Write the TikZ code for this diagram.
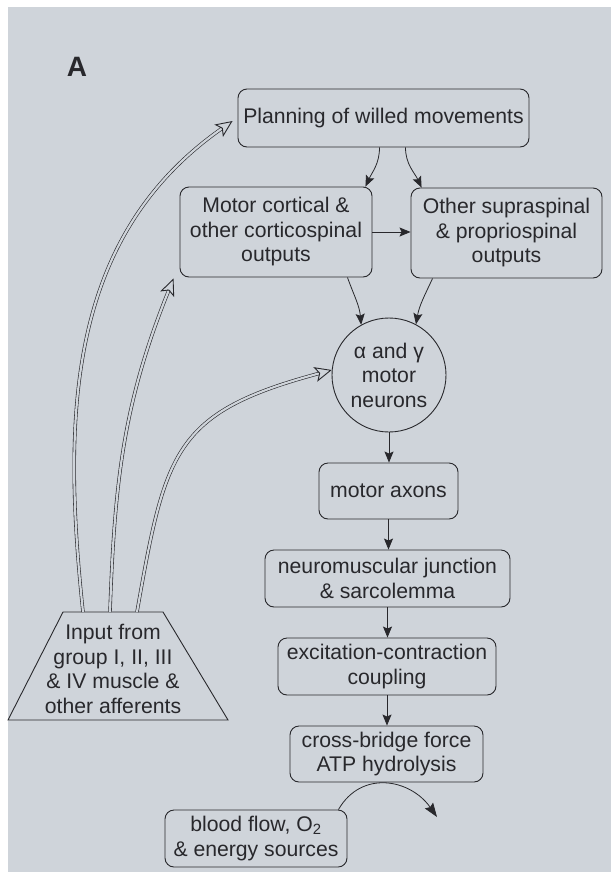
\documentclass[tikz,border=0pt]{standalone}
\usepackage{fontspec}
\setmainfont{Liberation Sans}
\usepackage{tikz}
\usetikzlibrary{shapes.geometric}
\usetikzlibrary{calc}
\usetikzlibrary{arrows.meta}
\definecolor{scan}{RGB}{207,212,218}
\definecolor{ink}{RGB}{40,40,44}
\tikzset{box/.style={draw=ink,rounded corners=9pt,line width=0.9pt,inner sep=0pt,align=center,text=ink}}
\tikzset{arr/.style={draw=ink,line width=0.8pt,-{Stealth[length=11pt,width=9pt,inset=2pt]}}}
\tikzset{dblarr/.style={draw=ink,double=scan,double distance=2.2pt,line width=0.6pt,-{Stealth[open,length=17pt,width=15pt,inset=4pt,line width=0.9pt]}}}

\begin{document}
\begin{tikzpicture}[x=1pt,y=1pt,font=\fontsize{21.2}{24.5}\selectfont]
		\useasboundingbox (0,0) rectangle (611,-876);
		\fill[white] (0,0) rectangle (611,-876);
		\fill[scan] (8,-7) rectangle (611,-872);
		\node[font=\fontsize{28}{28}\selectfont\bfseries,text=ink] (lbl) at (77,-67) {A};
		\node[box,minimum width=291pt,minimum height=58pt] (plan) at (383.5,-118) {Planning of willed movements};
		\node[box,minimum width=192pt,minimum height=90pt] (cort) at (276,-232) {Motor cortical \&\\other corticospinal\\outputs};
		\node[box,minimum width=191pt,minimum height=90pt] (supra) at (506.5,-233) {Other supraspinal\\\& propriospinal\\outputs};
		\node[circle,draw=ink,line width=0.9pt,minimum size=114pt,inner sep=0pt,align=center,text=ink] (neur) at (389,-375) {α and γ\\motor\\neurons};
		\node[box,minimum width=139pt,minimum height=56pt] (axon) at (388.5,-491) {motor axons};
		\node[box,minimum width=245pt,minimum height=57pt] (nmj) at (387.5,-578.5) {neuromuscular junction\\\& sarcolemma};
		\node[box,minimum width=218pt,minimum height=57pt] (ecc) at (387,-666.5) {excitation-contraction\\coupling};
		\node[box,minimum width=193pt,minimum height=56pt] (xbr) at (386.5,-754) {cross-bridge force\\ATP hydrolysis};
		\node[box,minimum width=182pt,minimum height=57pt] (blood) at (256,-838.5) {blood flow, O\textsubscript{2}\\\& energy sources};
		\draw[draw=ink,line width=0.9pt] (8,-720) -- (63,-612) -- (163,-612) -- (228,-720) -- cycle;
		\node[text=ink,align=center] (inp) at (113,-669) {Input from\\group I, II, III\\\& IV muscle \&\\other afferents};
		\coordinate (in1) at (83,-612);
		\coordinate (in2) at (110,-612);
		\coordinate (in3) at (137,-612);
		\coordinate (sink) at (437,-817);
		\draw[dblarr] (in1) to[out=96,in=215] ([shift={(-5,-3)}]plan.west);
		\draw[dblarr] (in2) to[out=88,in=248] ([shift={(-6,-1)}]cort.south west);
		\draw[dblarr] (in3) to[out=80,in=195,looseness=1.35] (neur.175);
		\draw[arr] ([xshift=-4pt]plan.south) to[out=-90,in=65] ([xshift=-7pt]cort.north east);
		\draw[arr] ([xshift=22pt]plan.south) to[out=-90,in=115] ([xshift=11pt]supra.north west);
		\draw[arr] (cort.east) -- (cort.east -| supra.west);
		\draw[arr] ([xshift=-25pt]cort.south east) to[out=-70,in=95] (neur.119);
		\draw[arr] ([xshift=22pt]supra.south west) to[out=-115,in=80] (neur.62);
		\draw[arr] (neur.south) -- (neur.south |- axon.north);
		\draw[arr] (axon.south) -- (axon.south |- nmj.north);
		\draw[arr] (nmj.south) -- (nmj.south |- ecc.north);
		\draw[arr] (ecc.south) -- (ecc.south |- xbr.north);
		\draw[arr,-{Stealth[length=14pt,width=10pt,inset=2pt]}] ([xshift=-9pt]blood.north east) to[out=60,in=125,looseness=1.2] (sink);
	\end{tikzpicture}
\end{document}
